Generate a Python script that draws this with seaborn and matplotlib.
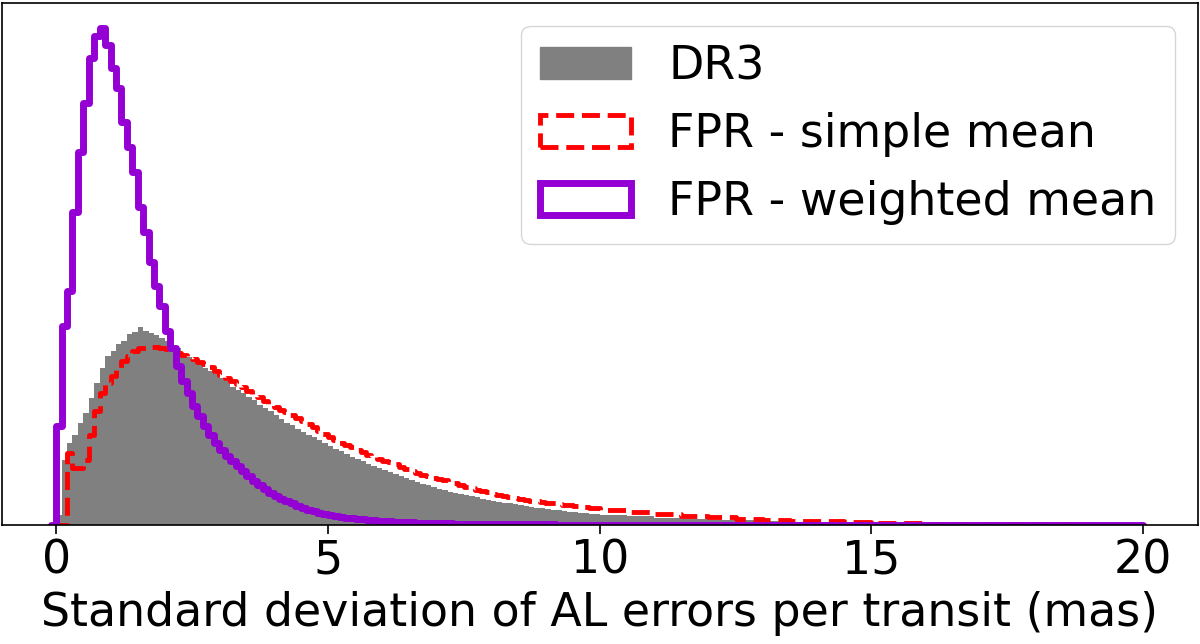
import numpy as np
import matplotlib
matplotlib.use("Agg")
import matplotlib.pyplot as plt
import matplotlib.patches as mpatches
import seaborn as sns

# bin heights (arbitrary units, weighted-mean peak = 100)
# fine bins of 0.1 mas from 0 to 10, then 0.5 mas from 10 to 20
dr3 = [2, 13, 16.5, 18, 20.5, 22.5, 25.5, 28.5, 31.5, 34,
       35, 36.5, 37, 38.5, 38.8, 39.8, 39, 38.6, 38.2, 37.6,
       37, 36.2, 35.5, 34.4, 33.8, 33, 32.4, 31.5, 31, 30.3,
       29.5, 28.9, 27.8, 27.2, 26.5, 25.8, 25.2, 24.2, 23.6, 22.9,
       22.1, 21.4, 20.6, 20.0, 19.2, 18.7, 18.0, 17.6, 17.0, 16.4,
       15.9, 15.3, 14.8, 14.2, 13.7, 13.3, 12.8, 12.3, 11.9, 11.4,
       11.0, 10.6, 10.2, 9.8, 9.4, 9.1, 8.7, 8.3, 8.0, 7.7,
       7.3, 7.0, 6.7, 6.4, 6.2, 6.0, 5.8, 5.6, 5.3, 5.1,
       4.9, 4.7, 4.5, 4.3, 4.1, 3.9, 3.7, 3.5, 3.4, 3.3,
       3.2, 3.0, 2.9, 2.8, 2.65, 2.5, 2.4, 2.3, 2.25, 2.15,
       1.95, 1.7, 1.45, 1.25, 1.05, 0.9, 0.75, 0.62, 0.5, 0.42,
       0.34, 0.27, 0.22, 0.18, 0.14, 0.11, 0.09, 0.07, 0.05, 0.04]

fpr_simple = [0, 0, 14.5, 11.5, 11.5, 13, 18, 23, 26.5, 28.5,
              30, 31.5, 33, 34, 35, 35.5, 35.7, 35.8, 35.8, 35.6,
              35.3, 35, 34.6, 34.2, 33.7, 33.3, 32.8, 32.3, 31.7, 31,
              30.2, 29.6, 29, 28.3, 27.7, 27, 26.4, 25.7, 25, 24.3,
              23.7, 23.2, 22.7, 22.2, 21.6, 21, 20.3, 19.6, 18.9, 18.2,
              17.6, 17, 16.5, 16, 15.6, 15.1, 14.6, 14.1, 13.6, 13.2,
              12.9, 12.6, 12.2, 11.6, 11.2, 10.9, 10.5, 10.1, 9.8, 9.5,
              9.2, 9.0, 8.7, 8.4, 8.0, 7.7, 7.4, 7.1, 6.9, 6.6,
              6.3, 6.1, 5.9, 5.7, 5.5, 5.3, 5.1, 4.9, 4.75, 4.6,
              4.45, 4.3, 4.2, 4.05, 3.9, 3.8, 3.65, 3.5, 3.4, 3.3,
              2.9, 2.5, 2.1, 1.8, 1.5, 1.2, 1.0, 0.85, 0.7, 0.55,
              0.45, 0.35, 0.25, 0.2, 0.15, 0.12, 0.1, 0.08, 0.06, 0.05]

fpr_weighted = [20, 40, 47, 63, 75, 85, 94, 98.5, 100, 96.5,
                92, 88, 81, 76, 71, 64, 59, 53, 48, 44,
                39, 35.5, 32, 29, 26.5, 24, 22, 20, 18, 16.5,
                15, 13.8, 12.8, 11.8, 10.8, 9.8, 8.9, 8.0, 7.2, 6.5,
                5.9, 5.3, 4.8, 4.3, 3.8, 3.4, 3.0, 2.7, 2.4, 2.2,
                2.0, 1.8, 1.6, 1.45, 1.3, 1.2, 1.1, 1.0, 0.9, 0.8,
                0.75, 0.7, 0.65, 0.6, 0.55, 0.5, 0.46, 0.42, 0.38, 0.35,
                0.32, 0.3, 0.28, 0.26, 0.24, 0.22, 0.2, 0.19, 0.18, 0.17,
                0.16, 0.15, 0.14, 0.13, 0.12, 0.11, 0.1, 0.1, 0.09, 0.09,
                0.08, 0.08, 0.07, 0.07, 0.06, 0.06, 0.06, 0.05, 0.05, 0.05,
                0.04, 0.04, 0.03, 0.03, 0.03, 0.02, 0.02, 0.02, 0.02, 0.01,
                0.01, 0.01, 0.01, 0.01, 0.01, 0.01, 0.01, 0.01, 0.01, 0.01]

labels = ["DR3", "FPR - simple mean", "FPR - weighted mean"]

# bin edges: empty bin in front so the step outlines rise from the baseline
edges = np.concatenate([[-0.1], np.linspace(0, 10, 101), np.linspace(10, 20, 21)[1:]])
centers = (edges[:-1] + edges[1:]) / 2
bins = edges.tolist()

sns.set_style("ticks")
plt.rcParams.update({
    "axes.edgecolor": "black",
    "text.color": "black",
    "axes.labelcolor": "black",
    "xtick.color": "black",
    "font.family": ["DejaVu Sans"],
})

fig = plt.figure(figsize=(12, 6.44), dpi=100)
ax = fig.add_axes([0.0015, 0.185, 0.9965, 0.81])

sns.histplot(x=centers, weights=np.r_[0, dr3], bins=bins, element="step",
             fill=True, color="grey", alpha=1, linewidth=0, ax=ax)
sns.histplot(x=centers, weights=np.r_[0, fpr_simple], bins=bins, element="step",
             fill=False, color="red", linestyle="--", linewidth=3.5, ax=ax)
sns.histplot(x=centers, weights=np.r_[0, fpr_weighted], bins=bins, element="step",
             fill=False, color="darkviolet", linewidth=5, ax=ax)

ax.set_xlim(-1, 21)
ax.set_ylim(0, 105)
ax.set_xticks([0, 5, 10, 15, 20])
ax.set_yticks([])
ax.set_ylabel("")
ax.set_xlabel("Standard deviation of AL errors per transit (mas)", fontsize=33, labelpad=6)
ax.tick_params(axis="x", labelsize=33, length=6.5, width=1.2, pad=3)
for s in ax.spines.values():
    s.set_linewidth(1.2)

handles = [
    mpatches.Patch(facecolor="grey", edgecolor="grey", label=labels[0]),
    mpatches.Patch(facecolor="none", edgecolor="red", linestyle="--", linewidth=3.5, label=labels[1]),
    mpatches.Patch(facecolor="none", edgecolor="darkviolet", linewidth=5, label=labels[2]),
]
ax.legend(handles=handles, loc="upper right", fontsize=33, frameon=True,
          fancybox=True, framealpha=0.8, edgecolor="0.8", borderaxespad=0.5,
          labelspacing=0.5)

fig.savefig("out.png", dpi=100)
